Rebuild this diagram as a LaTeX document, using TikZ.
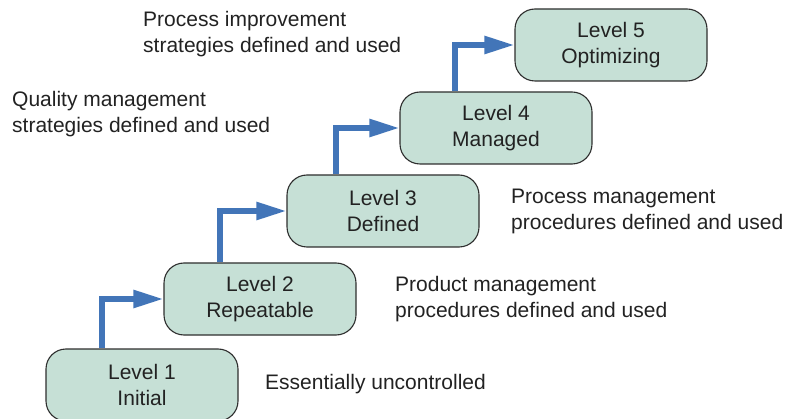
\documentclass[tikz,border=0pt]{standalone}
\usepackage{fontspec}
\setmainfont{Liberation Sans}
\usetikzlibrary{arrows.meta}
\definecolor{levelfill}{HTML}{C6E0D6}
\definecolor{levelline}{HTML}{2E2E2E}
\definecolor{climbblue}{HTML}{4275B8}
\definecolor{notegray}{HTML}{222222}

\begin{document}
\begin{tikzpicture}[x=1pt, y=-1pt,
      level/.style={draw=levelline, line width=1.1pt, fill=levelfill, rounded corners=20pt,
                    align=center, minimum width=192pt, minimum height=72pt, inner sep=0pt,
                    text=notegray, font=\fontsize{21}{26}\selectfont},
      note/.style={anchor=west, align=left, inner sep=0pt, text=notegray,
                   font=\fontsize{21}{26}\selectfont},
      climb/.style={draw=climbblue, line width=5.5pt,
                    -{Triangle[length=30pt, width=17pt]}}]
      \useasboundingbox (0,0) rectangle (789,419);
      % the five levels
      \node[level] (l1) at (142,385) {Level 1\\Initial};
      \node[level] (l2) at (260,299) {Level 2\\Repeatable};
      \node[level] (l3) at (383,211) {Level 3\\Defined};
      \node[level] (l4) at (496,128) {Level 4\\Managed};
      \node[level] (l5) at (611,45) {Level 5\\Optimizing};
      % steps up
      \draw[climb] ([xshift=-40pt]l1.north) |- (l2.west);
      \draw[climb] ([xshift=-40pt]l2.north) |- (l3.west);
      \draw[climb] ([xshift=-47pt]l3.north) |- (l4.west);
      \draw[climb] ([xshift=-41pt]l4.north) |- (l5.west);
      % notes
      \node[note] (n1) at (265,384) {Essentially uncontrolled};
      \node[note] (n2) at (395,299) {Product management\\procedures defined and used};
      \node[note] (n3) at (511,211) {Process management\\procedures defined and used};
      \node[note] (n4) at (12,114) {Quality management\\strategies defined and used};
      \node[note] (n5) at (143,34) {Process improvement\\strategies defined and used};
    \end{tikzpicture}
\end{document}
